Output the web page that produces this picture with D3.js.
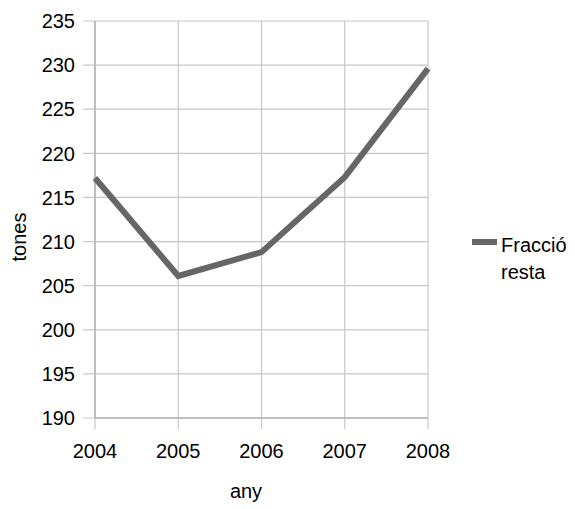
<!DOCTYPE html>
<html>
<head>
<meta charset="utf-8">
<script src="https://cdn.jsdelivr.net/npm/d3@7"></script>
<style>
body{margin:0;background:#fff;}
text{font-family:"Liberation Sans",Arial,sans-serif;fill:#000;}
</style>
</head>
<body>
<svg></svg>
<script>
var width=575;
var height=509;

var years=['2004','2005','2006','2007','2008'];
var tones=[217.2,206.1,208.8,217.3,229.6];
var yTicks=[190,195,200,205,210,215,220,225,230,235];
var seriesName=['Fracció','resta'];

var plotLeft=95, plotRight=428, plotTop=21, plotBottom=418;
var fontSize='20px';

var svg=d3.select('svg')
	.attr('width',width)
	.attr('height',height);

var xScale=d3.scalePoint()
	.domain(years)
	.range([plotLeft,plotRight]);

var yScale=d3.scaleLinear()
	.domain([190,235])
	.range([plotBottom,plotTop]);

// grid
svg.append('g')
	.selectAll('line')
	.data(yTicks)
	.enter()
	.append('line')
		.attr('x1',plotLeft-12)
		.attr('x2',plotRight)
		.attr('y1',d=>yScale(d))
		.attr('y2',d=>yScale(d))
		.attr('stroke','#c8c8c8')
		.attr('stroke-width',1.2);

svg.append('g')
	.selectAll('line')
	.data(years)
	.enter()
	.append('line')
		.attr('x1',d=>xScale(d))
		.attr('x2',d=>xScale(d))
		.attr('y1',plotTop)
		.attr('y2',plotBottom+11)
		.attr('stroke','#c8c8c8')
		.attr('stroke-width',1.2);

// axis lines
svg.append('line')
	.attr('x1',plotLeft).attr('x2',plotLeft)
	.attr('y1',plotTop).attr('y2',plotBottom)
	.attr('stroke','#b3b3b3').attr('stroke-width',1.5);
svg.append('line')
	.attr('x1',plotLeft).attr('x2',plotRight)
	.attr('y1',plotBottom).attr('y2',plotBottom)
	.attr('stroke','#b3b3b3').attr('stroke-width',1.5);

// tick labels
svg.append('g')
	.selectAll('text')
	.data(yTicks)
	.enter()
	.append('text')
		.attr('x',75)
		.attr('y',d=>yScale(d))
		.attr('dy','0.36em')
		.style('text-anchor','end')
		.style('font-size',fontSize)
		.text(d=>d);

svg.append('g')
	.selectAll('text')
	.data(years)
	.enter()
	.append('text')
		.attr('x',d=>xScale(d))
		.attr('y',458)
		.style('text-anchor','middle')
		.style('font-size',fontSize)
		.text(d=>d);

// line
var line=d3.line()
	.x((d,i)=>xScale(years[i]))
	.y(d=>yScale(d));

svg.append('path')
	.datum(tones)
	.attr('d',line)
	.attr('fill','none')
	.attr('stroke','#666666')
	.attr('stroke-width',6);

// axis titles
svg.append('text')
	.attr('x',246)
	.attr('y',498)
	.style('text-anchor','middle')
	.style('font-size',fontSize)
	.text('any');

svg.append('text')
	.attr('transform','rotate(-90)')
	.attr('x',-237)
	.attr('y',26)
	.style('text-anchor','middle')
	.style('font-size',fontSize)
	.text('tones');

// legend
svg.append('line')
	.attr('x1',472).attr('x2',497)
	.attr('y1',242).attr('y2',242)
	.attr('stroke','#666666')
	.attr('stroke-width',6);

svg.append('g')
	.selectAll('text')
	.data(seriesName)
	.enter()
	.append('text')
		.attr('x',501)
		.attr('y',(d,i)=>252+i*27)
		.style('font-size',fontSize)
		.text(d=>d);
</script>
</body>
</html>
